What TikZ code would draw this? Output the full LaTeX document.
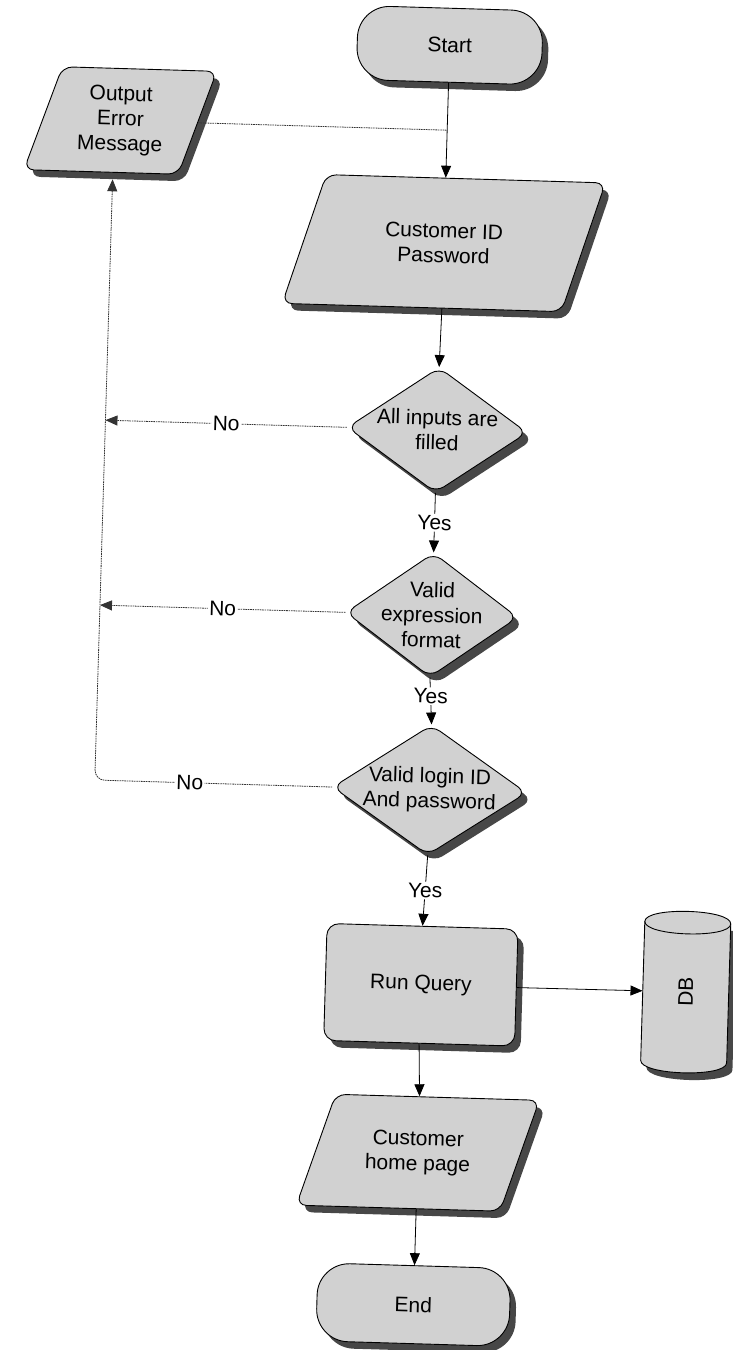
\documentclass[tikz,border=0pt]{standalone}
\usepackage{fontspec}
\setmainfont{Liberation Sans}
\usetikzlibrary{shapes.geometric,arrows.meta,shadows}
\begin{document}
\begin{tikzpicture}[x=1pt,y=-1pt,
  font=\fontsize{21}{25}\selectfont,
  shp/.style={draw=black, line width=0.9pt, fill=black!18, align=center, inner sep=2pt,
     drop shadow={shadow xshift=6pt, shadow yshift=-7pt, fill=black!72, opacity=1}},
  term/.style={shp, rectangle, rounded corners=32pt},
  io/.style={shp, trapezium, trapezium stretches=true, rounded corners=10pt},
  dec/.style={shp, diamond, rounded corners=10pt, inner sep=0pt},
  proc/.style={shp, rectangle, rounded corners=12pt},
  con/.style={line width=0.8pt, -{Triangle[length=12pt,width=10pt]}},
  fb/.style={line width=0.8pt, black!80, dash pattern=on 1.6pt off 0.8pt},
  fbarrow/.style={fb, -{Triangle[length=12pt,width=10pt]}},
  lbl/.style={fill=white, inner sep=1.5pt, text=black}
]
\fill[white] (0,0) rectangle (732,1350);
\useasboundingbox (0,0) rectangle (732,1350);
\begin{scope}[rotate around={-1.7:(366,675)}, transform shape]
  \node[term, minimum width=185pt, minimum height=74pt] (start) at (431,43) {Start};
  \node[io, trapezium left angle=70, trapezium right angle=110,
        minimum width=190pt, minimum height=104pt] (out) at (104,128) {Output\\Error\\Message};
  \node[io, trapezium left angle=65, trapezium right angle=115,
        minimum width=320pt, minimum height=130pt] (cust) at (431,241) {Customer ID\\Password};
  \node[dec, minimum width=180pt, minimum height=125pt,
        label={[align=center]center:All inputs are\\filled}] (d1) at (430,428) {};
  \node[dec, minimum width=172pt, minimum height=124pt,
        label={[align=center]center:Valid\\expression\\format}] (d2) at (430,613) {};
  \node[dec, minimum width=194pt, minimum height=130pt,
        label={[align=center]center:Valid login ID\\And password}] (d3) at (433,788) {};
  \node[proc, minimum width=191pt, minimum height=117pt] (run) at (430,983) {Run Query};
  \node[io, trapezium left angle=64, trapezium right angle=116,
        minimum width=240pt, minimum height=112pt] (home) at (432,1151) {Customer\\home page};
  \node[term, minimum width=193pt, minimum height=78pt] (end) at (432,1303) {End};

  % database cylinder
  \fill[black!72] (658,920) -- (658,1059) .. controls (658,1074) and (744,1074) .. (744,1059)
        -- (744,920) -- cycle;
  \filldraw[fill=black!18, draw=black, line width=0.9pt]
        (652,913) -- (652,1052) .. controls (652,1067) and (738,1067) .. (738,1052)
        -- (738,913) .. controls (738,898) and (652,898) .. (652,913) -- cycle;
  \draw[line width=0.9pt] (652,913) .. controls (652,928) and (738,928) .. (738,913);
  \node[minimum width=86pt, minimum height=139pt, inner sep=0pt] (db) at (695,982.5) {};
  \node[rotate=90] (dbt) at (db.center) {DB};

  % junction coordinates
  \coordinate (j0) at (431,128);
  \coordinate (j1) at (98,428);
  \coordinate (j2) at (98,613);
  \coordinate (fbx) at (98,788);
  \coordinate (fbtop) at (98,187);

  % main flow
  \draw[con] (start.south) -- (cust.north);
  \draw[fb] (out.east) -- (j0);
  \draw[con] (cust.south) -- (d1.north);
  \draw[con] (d1.south) -- node[lbl]{Yes} (d2.north);
  \draw[con] (d2.south) -- node[lbl, pos=0.4]{Yes} (d3.north);
  \draw[con] (d3.south) -- node[lbl]{Yes} (run.north);
  \draw[con] (run.east) -- (db.west);
  \draw[con] (run.south) -- (home.north);
  \draw[con] (home.south) -- (end.north);

  % feedback
  \draw[fbarrow] (d1.west) -- node[lbl]{No} (j1);
  \draw[fbarrow] (d2.west) -- node[lbl]{No} (j2);
  \draw[fbarrow, rounded corners=10pt] (d3.west) -- node[lbl, pos=0.6]{No} (fbx) -- (fbtop);
\end{scope}
\end{tikzpicture}
\end{document}
